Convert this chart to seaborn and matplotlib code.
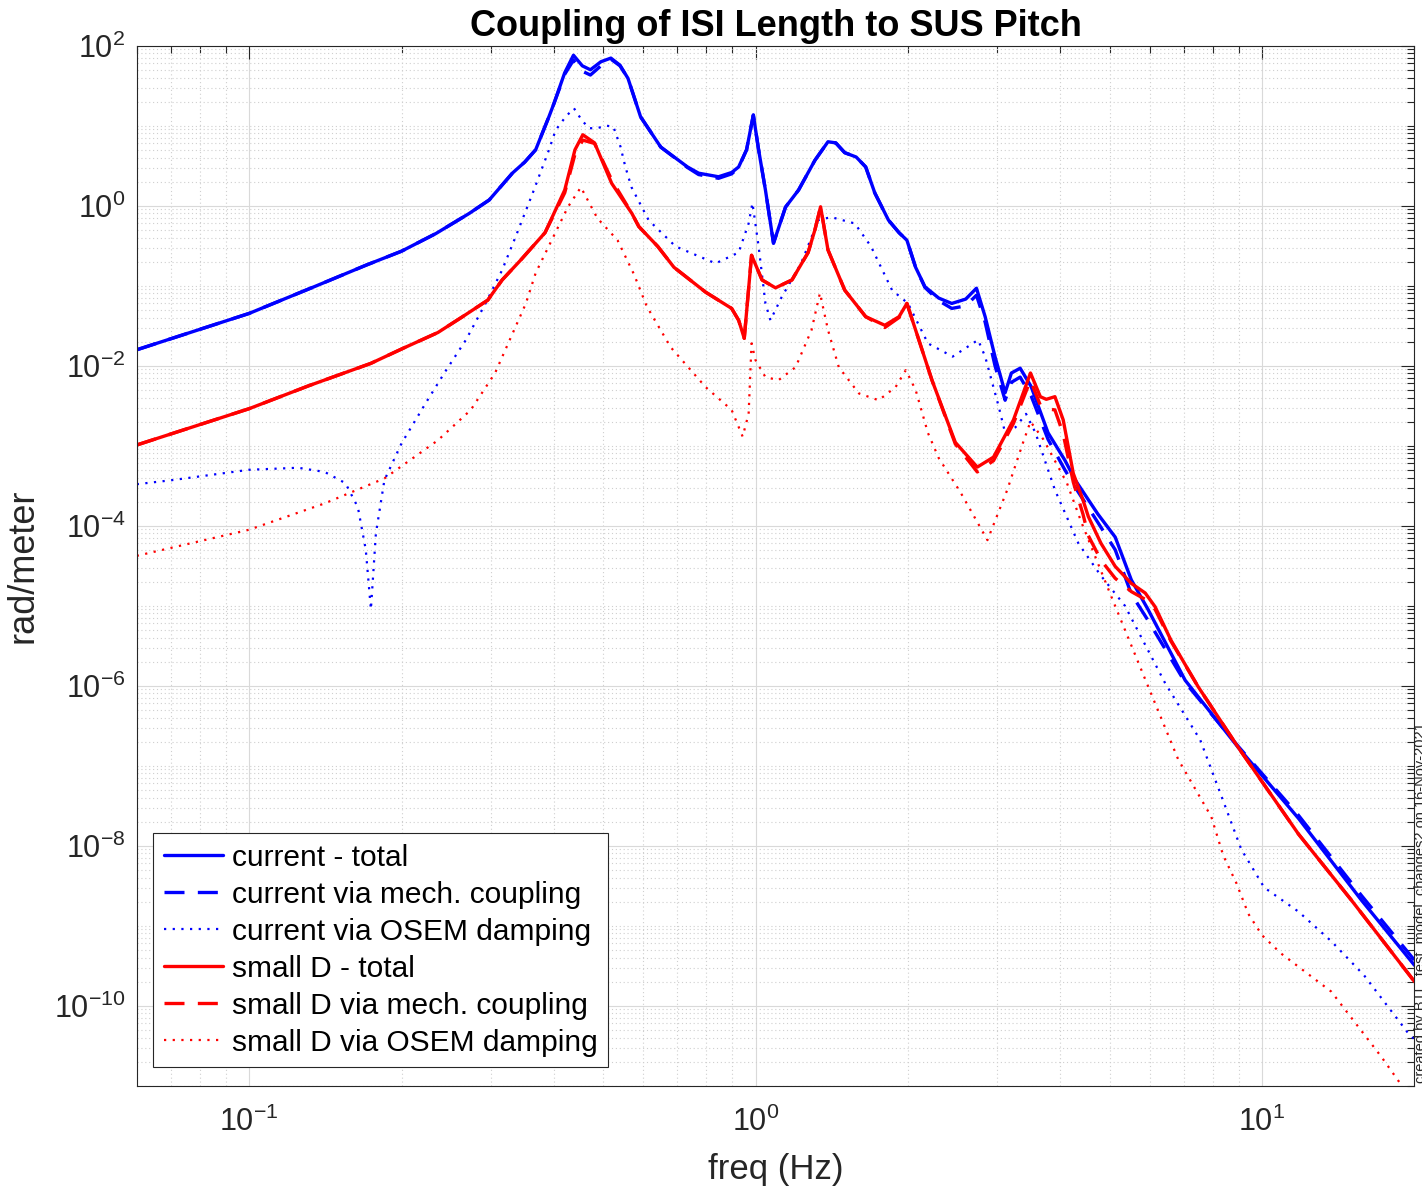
import numpy as np
import pandas as pd
import matplotlib
matplotlib.use("Agg")
import matplotlib.pyplot as plt
import seaborn as sns
from matplotlib.ticker import FixedLocator, FuncFormatter, NullFormatter

# ---------------- data ----------------
f_cur_tot = [0.06, 0.08, 0.1, 0.136, 0.17, 0.2, 0.234, 0.272, 0.298, 0.331, 0.35, 0.368, 0.391, 0.40, 0.42, 0.437,
             0.455, 0.472, 0.495, 0.518, 0.54, 0.56, 0.593, 0.65, 0.734, 0.772, 0.845, 0.897, 0.926,
             0.96, 0.99, 1.014, 1.046, 1.085, 1.146, 1.216, 1.31, 1.39, 1.44, 1.5, 1.58, 1.65, 1.72,
             1.83, 1.92, 1.99, 2.07, 2.16, 2.3, 2.44, 2.6, 2.73, 2.84, 2.97, 3.11, 3.2, 3.33, 3.5,
             3.78, 4.08, 4.28, 4.74, 5.13, 5.52, 5.96, 7.05, 8.97, 11.8, 15.7, 20.0]
v_cur_tot = [0.0158, 0.0285, 0.045, 0.10, 0.18, 0.27, 0.45, 0.80, 1.18, 2.55, 3.5, 5.0, 13, 19, 46, 76,
             56, 50, 63, 70, 57, 39, 12.9, 5.4, 3.05, 2.55, 2.3, 2.6, 3.05,
             5.0, 13.6, 5.0, 1.57, 0.34, 0.96, 1.57, 3.7, 6.3, 6.1, 4.6, 4.06, 3.05, 1.44,
             0.66, 0.46, 0.37, 0.17, 0.097, 0.07, 0.06, 0.068, 0.093, 0.041, 0.013, 0.0046, 0.0081, 0.0093, 0.0055,
             1.45e-3, 6.6e-4, 3.7e-4, 1.4e-4, 7.2e-5, 2.1e-5, 8.9e-6, 1.17e-6, 1.7e-7, 2.2e-8, 2.1e-9, 3.2e-10]

f_cur_mech = f_cur_tot
v_cur_mech = [0.0158, 0.0285, 0.045, 0.10, 0.18, 0.27, 0.45, 0.80, 1.18, 2.55, 3.5, 5.0, 13, 19, 44, 66,
              48, 43, 56, 68, 56, 39, 12.9, 5.4, 3.0, 2.45, 2.2, 2.5, 3.0,
              5.0, 13.6, 5.0, 1.57, 0.34, 0.96, 1.57, 3.7, 6.3, 6.1, 4.6, 4.06, 3.05, 1.44,
              0.66, 0.46, 0.37, 0.17, 0.095, 0.065, 0.052, 0.056, 0.076, 0.035, 0.010, 0.0037, 0.0062, 0.0072, 0.0042,
              1.2e-3, 5.0e-4, 3.0e-4, 1.1e-4, 5.0e-5, 1.4e-5, 6.5e-6, 1.1e-6, 1.75e-7, 2.4e-8, 2.4e-9, 3.7e-10]

f_cur_osem = [0.06, 0.0702, 0.1, 0.125, 0.141, 0.155, 0.164, 0.170, 0.174, 0.178, 0.185, 0.2, 0.225,
              0.245, 0.268, 0.293, 0.316, 0.336, 0.363, 0.391, 0.403, 0.422, 0.438, 0.454, 0.469, 0.486,
              0.508, 0.524, 0.541, 0.553, 0.569, 0.615, 0.695, 0.834, 0.926, 0.969, 0.986, 1.014, 1.046,
              1.07, 1.126, 1.23, 1.33, 1.41, 1.57, 1.69, 1.86, 2.0, 2.19, 2.45, 2.75, 2.84, 3.02, 3.11,
              3.26, 3.42, 3.57, 3.9, 4.34, 4.8, 5.36, 6.44, 7.55, 8.4, 9.1, 10.1, 11.8, 13.7, 15.9, 19.4, 20.0]
v_cur_osem = [3.3e-4, 3.7e-4, 5.0e-4, 5.3e-4, 4.7e-4, 3.4e-4, 1.7e-4, 5e-5, 9e-6, 8e-5, 3.7e-4, 1.07e-3, 3.7e-3,
              8.8e-3, 0.021, 0.06, 0.157, 0.41, 1.43, 5.0, 8.8, 13, 16.5, 11.7, 9.3, 9.3,
              10, 9.7, 5.5, 3.1, 1.7, 0.66, 0.31, 0.19, 0.26, 0.6, 1.08, 0.31, 0.06,
              0.037, 0.072, 0.19, 0.66, 0.72, 0.6, 0.31, 0.088, 0.06, 0.019, 0.013, 0.021, 0.013, 3.1e-3, 1.45e-3,
              1.7e-3, 2.5e-3, 1.45e-3, 2.8e-4, 6e-5, 2.4e-5, 1.0e-5, 1.07e-6, 2.1e-7, 3.5e-8, 9e-9, 3e-9, 1.5e-9,
              6.4e-10, 2.4e-10, 4.6e-11, 3.8e-11]

f_sd_tot = [0.06, 0.1, 0.131, 0.174, 0.201, 0.236, 0.264, 0.296, 0.316, 0.344, 0.384, 0.42, 0.44, 0.456, 0.481, 0.52, 0.57, 0.588,
            0.641, 0.69, 0.797, 0.897, 0.926, 0.95, 0.982, 1.03, 1.095, 1.18, 1.27, 1.31, 1.344, 1.39,
            1.5, 1.65, 1.8, 1.92, 1.99, 2.07, 2.23, 2.48, 2.74, 2.95, 3.23, 3.49, 3.65, 3.75, 3.9, 4.05,
            4.24, 4.43, 4.54, 4.81, 5.13, 5.52, 5.88, 6.15, 6.61, 7.48, 8.97, 11.8, 15.0, 20.0]
v_sd_tot = [1.02e-3, 2.9e-3, 5.6e-3, 0.0107, 0.0164, 0.026, 0.041, 0.066, 0.118, 0.21, 0.46, 1.57, 5.0, 7.7, 6.1, 1.9, 0.8, 0.55,
            0.31, 0.17, 0.083, 0.052, 0.037, 0.022, 0.24, 0.118, 0.094, 0.118, 0.26, 0.5, 0.97, 0.28,
            0.088, 0.041, 0.032, 0.041, 0.06, 0.028, 6.6e-3, 1.1e-3, 5.4e-4, 7.2e-4, 2.1e-3, 8.1e-3, 4.1e-3, 3.8e-3, 4.1e-3, 2.1e-3,
            4.5e-4, 2.1e-4, 1.3e-4, 6e-5, 3.1e-5, 1.9e-5, 1.44e-5, 9.7e-6, 3.7e-6, 9.7e-7, 1.7e-7, 1.4e-8, 2.1e-9, 2.0e-10]

f_sd_mech = f_sd_tot
v_sd_mech = [1.02e-3, 2.9e-3, 5.6e-3, 0.0107, 0.0164, 0.026, 0.041, 0.066, 0.118, 0.21, 0.46, 1.45, 4.4, 6.6, 6.0, 2.1, 0.8, 0.55,
             0.31, 0.17, 0.083, 0.052, 0.037, 0.022, 0.24, 0.118, 0.094, 0.118, 0.26, 0.5, 0.97, 0.28,
             0.088, 0.041, 0.030, 0.040, 0.06, 0.028, 6.6e-3, 1.05e-3, 4.7e-4, 6.5e-4, 1.9e-3, 6.6e-3, 3.2e-3, 2.9e-3, 2.8e-3, 1.4e-3,
             3.5e-4, 1.4e-4, 7.5e-5, 3.7e-5, 2.2e-5, 1.5e-5, 1.2e-5, 9.0e-6, 3.6e-6, 9.7e-7, 1.7e-7, 1.4e-8, 2.1e-9, 2.0e-10]

f_sd_osem = [0.06, 0.1, 0.141, 0.185, 0.236, 0.274, 0.306, 0.352, 0.368, 0.426, 0.452, 0.487, 0.534,
             0.575, 0.61, 0.68, 0.797, 0.897, 0.943, 0.969, 0.982, 1.0, 1.046, 1.11, 1.2, 1.29, 1.34,
             1.39, 1.46, 1.6, 1.75, 1.89, 1.98, 2.07, 2.19, 2.3, 2.54, 2.87, 3.14, 3.37, 3.49, 3.7, 4.12,
             4.4, 5.04, 5.88, 6.83, 7.94, 8.38, 8.9, 9.4, 10.0, 10.9, 13.7, 17.2, 18.5, 20.0]
v_sd_osem = [4.2e-5, 8.9e-5, 1.9e-4, 3.9e-4, 1.17e-3, 2.8e-3, 8.1e-3, 0.06, 0.144, 0.96, 1.7, 0.7, 0.37,
             0.14, 0.055, 0.017, 5.4e-3, 2.8e-3, 1.3e-3, 2.5e-3, 0.019, 0.0117, 7.2e-3, 6.6e-3, 9.6e-3, 0.028, 0.081,
             0.028, 9.6e-3, 4.5e-3, 3.7e-3, 5.4e-3, 8.8e-3, 5e-3, 1.44e-3, 7e-4, 2.6e-4, 6.6e-5, 2.8e-4, 1.07e-3, 2e-3, 1.2e-3, 3.4e-4,
             1.1e-4, 1.3e-5, 1.2e-6, 1.2e-7, 2.3e-8, 7.6e-9, 3.4e-9, 1.4e-9, 7.6e-10, 4.5e-10, 1.5e-10, 2.3e-11, 1.2e-11, 6e-12]

series_labels = ["current - total", "current via mech. coupling", "current via OSEM damping",
                 "small D - total", "small D via mech. coupling", "small D via OSEM damping"]

# ---------------- style ----------------
sns.set_theme(style="white")
plt.rcParams["font.family"] = ["Liberation Sans", "DejaVu Sans"]
plt.rcParams["mathtext.fontset"] = "custom"
plt.rcParams["mathtext.rm"] = "Liberation Sans"
plt.rcParams["mathtext.it"] = "Liberation Sans:italic"
plt.rcParams["mathtext.bf"] = "Liberation Sans:bold"

DARK = "#262626"
fig = plt.figure(figsize=(14.22, 11.89), dpi=100)
ax = fig.add_axes([136.7 / 1422, 1 - 1085.7 / 1189, (1414.5 - 136.7) / 1422, 1040 / 1189])

data = [(f_cur_tot, v_cur_tot), (f_cur_mech, v_cur_mech), (f_cur_osem, v_cur_osem),
        (f_sd_tot, v_sd_tot), (f_sd_mech, v_sd_mech), (f_sd_osem, v_sd_osem)]
colors = ["#0000ff", "#0000ff", "#0000ff", "#ff0000", "#ff0000", "#ff0000"]
styles = ["-", (0, (6, 4)), (0, (1, 2.9)), "-", (0, (6, 4)), (0, (1, 2.9))]
widths = [2.4, 2.4, 1.6, 2.4, 2.4, 1.6]

for (fx, vy), lab, c, ls, lw in zip(data, series_labels, colors, styles, widths):
    df = pd.DataFrame({"freq": fx, "mag": vy})
    sns.lineplot(data=df, x="freq", y="mag", ax=ax, color=c, linestyle=ls, linewidth=lw,
                 label=lab, estimator=None, errorbar=None, sort=False, legend=False)

ax.set_xscale("log")
ax.set_yscale("log")
ax.set_xlim(0.06, 20)
ax.set_ylim(1e-11, 1e2)

# ticks
xmaj = [0.1, 1, 10]
xmin = [k * 10.0 ** d for d in range(-2, 2) for k in range(2, 10)]
ymaj = [10.0 ** d for d in range(-10, 3, 2)]
ymin = [k * 10.0 ** d for d in range(-12, 3) for k in range(1, 10) if not (k == 1 and d % 2 == 0)]
ax.xaxis.set_major_locator(FixedLocator(xmaj))
ax.xaxis.set_minor_locator(FixedLocator(xmin))
ax.yaxis.set_major_locator(FixedLocator(ymaj))
ax.yaxis.set_minor_locator(FixedLocator(ymin))
fmt = FuncFormatter(lambda v, p: r"$\mathdefault{10^{%d}}$" % int(round(np.log10(v))))
ax.xaxis.set_major_formatter(fmt)
ax.yaxis.set_major_formatter(fmt)
ax.xaxis.set_minor_formatter(NullFormatter())
ax.yaxis.set_minor_formatter(NullFormatter())

ax.tick_params(which="both", direction="in", top=True, right=True, color=DARK, width=0.8,
               labelcolor=DARK, labelsize=22)
ax.tick_params(which="major", length=9.4)
ax.tick_params(which="minor", length=5)
ax.tick_params(axis="x", which="major", pad=15)
ax.tick_params(axis="y", which="major", pad=8)

ax.grid(True, which="major", color="#d9d9d9", linewidth=0.8, linestyle="-")
ax.grid(True, which="minor", color="#cfcfcf", linewidth=0.8, linestyle=(0, (1, 2.5)))
ax.set_axisbelow(True)
for s in ax.spines.values():
    s.set_color(DARK)
    s.set_linewidth(0.8)
    s.set_visible(True)

ax.set_title("Coupling of ISI Length to SUS Pitch", fontsize=26, fontweight="bold", color="black", pad=7)
ax.set_xlabel("freq (Hz)", fontsize=25, color=DARK)
ax.set_ylabel("rad/meter", fontsize=26, color=DARK)
ax.xaxis.set_label_coords(0.5, -(1153 - 1085.7) / 1040)
ax.yaxis.set_label_coords(-(136.7 - 40) / 1277.8, 0.5)

leg = ax.legend(loc="lower left", bbox_to_anchor=(0.0128, 0.018), borderaxespad=0,
                fontsize=21.5, handlelength=2.0, handletextpad=0.3, labelspacing=0.3,
                borderpad=0.35, frameon=True, fancybox=False, framealpha=1)
leg.get_frame().set_edgecolor(DARK)
leg.get_frame().set_linewidth(0.8)
for t in leg.get_texts():
    t.set_color("black")

fig.text(1414 / 1422, (1189 - 1083) / 1189, "created by BTL_test_model_changes2 on 16-Nov-2021",
         rotation=90, ha="left", va="bottom", fontsize=10.5, color=DARK)

fig.savefig("out.png", dpi=100)
